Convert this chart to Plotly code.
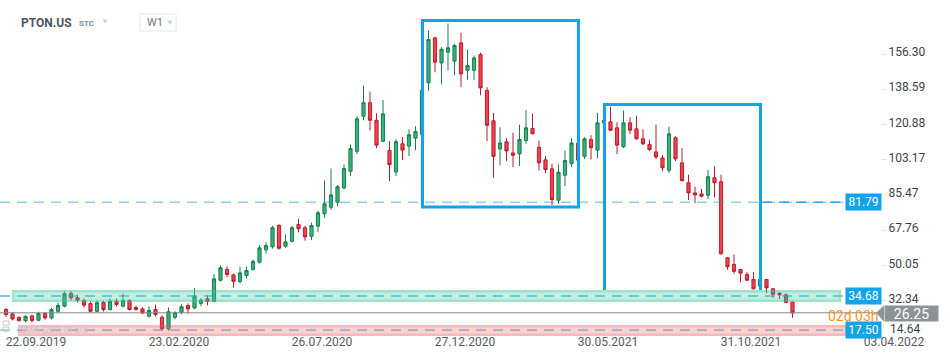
import pandas as pd
import plotly.graph_objects as go

# ---------------- data (weekly candles, PTON.US) ----------------
first_week = "2019-09-22"
opens = [27.9, 25.7, 23.9, 22.3, 24.7, 22.5, 25.9, 23.7, 27.0, 29.6,
         35.9, 33.8, 32.4, 30.9, 27.0, 31.4, 27.9, 32.1, 29.6, 32.4,
         28.9, 28.2, 24.5, 27.9, 24.0, 18.2, 24.0, 26.5, 29.9, 28.7,
         31.0, 33.3, 32.0, 42.6, 48.0, 45.3, 42.0, 45.0, 48.0, 51.7,
         57.9, 59.4, 70.1, 59.7, 62.2, 70.6, 69.0, 64.7, 69.8, 76.0,
         79.3, 81.8, 89.0, 97.4, 107.4, 125.0, 131.8, 123.0, 112.5, 107.8,
         97.0, 111.2, 110.0, 114.0, 115.9, 141.8, 164.4, 151.8, 157.2, 152.7,
         161.9, 148.1, 148.1, 156.0, 138.0, 122.7, 108.6, 112.2, 106.6, 106.1,
         112.8, 118.9, 109.4, 103.1, 98.6, 82.8, 95.4, 101.3, 111.5, 104.9,
         113.3, 108.0, 122.9, 122.2, 119.2, 109.7, 121.7, 118.7, 113.7, 110.8,
         107.1, 104.1, 97.9, 114.2, 101.6, 91.6, 86.5, 86.0, 85.3, 94.1,
         92.1, 53.9, 50.5, 48.0, 45.5, 43.0, 39.6, 43.0, 38.3, 36.1,
         35.3, 31.6]
highs = [28.7, 26.5, 24.5, 25.0, 25.2, 26.8, 26.7, 28.7, 31.3, 37.0,
         37.1, 35.4, 33.4, 31.9, 32.4, 32.4, 33.4, 33.4, 36.0, 33.0,
         29.9, 29.0, 29.5, 30.4, 24.9, 28.9, 27.0, 30.5, 31.0, 38.6,
         33.5, 35.0, 45.8, 50.0, 49.6, 46.0, 49.4, 49.4, 53.0, 60.3,
         61.7, 70.0, 70.8, 65.6, 70.0, 73.5, 70.0, 71.6, 77.5, 92.7,
         98.8, 90.5, 100.8, 110.8, 125.0, 140.4, 137.4, 126.5, 133.2, 112.5,
         113.5, 114.5, 118.5, 120.0, 138.5, 168.1, 165.0, 159.7, 171.6, 161.4,
         167.0, 158.6, 155.5, 157.0, 139.6, 126.7, 119.5, 114.0, 116.7, 120.8,
         128.0, 126.4, 112.8, 105.0, 101.1, 100.8, 107.8, 114.0, 112.0, 114.5,
         115.5, 126.7, 123.5, 129.8, 122.0, 127.9, 124.5, 125.3, 118.5, 113.3,
         120.8, 105.5, 119.8, 115.0, 109.0, 95.6, 89.6, 88.5, 98.0, 99.9,
         95.6, 54.2, 55.5, 48.3, 46.8, 46.8, 43.5, 43.3, 38.6, 36.5,
         36.0, 32.0]
lows = [24.2, 22.4, 21.7, 21.5, 21.4, 22.0, 22.7, 22.9, 26.2, 29.0,
        32.5, 31.4, 28.9, 26.4, 26.4, 26.9, 27.4, 29.4, 29.0, 27.4,
        27.4, 25.6, 23.9, 24.4, 17.3, 17.3, 23.0, 25.5, 25.9, 28.0,
        29.5, 30.0, 31.5, 42.0, 44.2, 38.9, 41.0, 43.5, 47.5, 51.0,
        56.0, 58.5, 58.0, 59.0, 61.5, 66.7, 62.5, 62.8, 66.8, 74.0,
        78.0, 79.8, 88.2, 94.9, 106.0, 123.0, 117.9, 109.0, 112.0, 92.4,
        95.0, 103.0, 105.0, 108.0, 115.0, 137.9, 147.1, 141.0, 148.0, 145.6,
        139.6, 143.4, 143.2, 135.6, 112.5, 94.1, 100.3, 102.6, 99.4, 100.0,
        111.0, 116.0, 97.7, 96.5, 80.4, 81.1, 89.9, 99.5, 102.5, 103.5,
        103.3, 103.9, 121.0, 117.5, 106.0, 109.0, 116.0, 113.2, 110.5, 107.6,
        103.5, 97.4, 96.5, 102.5, 92.4, 82.9, 81.3, 84.3, 83.5, 84.2,
        55.5, 47.9, 45.9, 41.6, 42.3, 38.0, 39.3, 36.3, 33.8, 33.2,
        31.0, 23.7]
closes = [25.4, 23.2, 22.4, 24.4, 22.4, 25.9, 23.7, 27.9, 29.9, 35.8,
          33.8, 32.6, 30.1, 27.0, 31.3, 27.9, 32.1, 30.4, 32.4, 27.9,
          27.9, 26.2, 27.4, 25.4, 18.2, 26.8, 26.3, 29.3, 28.2, 34.6,
          32.6, 32.0, 43.3, 48.9, 45.5, 42.1, 46.3, 47.5, 52.0, 58.9,
          60.0, 69.0, 58.7, 61.9, 69.0, 68.5, 64.4, 70.1, 76.5, 81.0,
          85.5, 89.6, 98.7, 108.8, 123.7, 131.8, 123.0, 110.5, 126.2, 100.7,
          112.2, 108.0, 115.7, 117.3, 137.9, 163.6, 152.2, 158.7, 159.4, 160.6,
          146.3, 150.5, 154.3, 139.3, 120.5, 104.9, 111.6, 107.6, 105.4, 113.3,
          119.2, 116.2, 101.6, 98.2, 83.2, 96.9, 102.8, 111.6, 103.0, 113.7,
          109.2, 121.7, 121.7, 118.0, 110.5, 121.7, 118.0, 113.7, 111.2, 108.3,
          104.6, 99.1, 116.2, 103.6, 92.6, 86.5, 85.5, 84.8, 94.6, 91.6,
          55.9, 49.4, 47.1, 46.2, 42.6, 38.3, 43.0, 38.8, 35.6, 35.3,
          31.5, 26.25]

x_tick_dates = ["2019-09-22", "2020-02-23", "2020-07-26", "2020-12-27",
                "2021-05-30", "2021-10-31", "2022-04-03"]
x_tick_labels = ["22.09.2019", "23.02.2020", "26.07.2020", "27.12.2020",
                 "30.05.2021", "31.10.2021", "03.04.2022"]
y_tick_vals = [32.34, 50.05, 67.76, 85.47, 103.17, 120.88, 138.59, 156.30]
y_tick_labels = ["32.34", "50.05", "67.76", "85.47",
                 "103.17", "120.88", "138.59", "156.30"]
y_bottom_tick = "14.64"

level_resistance = 81.79
level_zone_high = 34.68
level_zone_low = 17.50
last_price = 26.25
countdown = "02d 03h"

# ---------------- geometry helpers ----------------
W, H = 950, 361
ML, MR, MT, MB = 0, 70, 0, 25
PW, PH = W - ML - MR, H - MT - MB
PX_PER_USD = 1.99
Y_REF_PX, Y_REF_VAL = 54.0, 156.30


def v_at(ypx):
    return Y_REF_VAL - (ypx - Y_REF_PX) / PX_PER_USD


def px(xpx):
    return xpx / PW


def py(ypx):
    return 1 - ypx / PH


start = pd.Timestamp(first_week)
dates = pd.date_range(start, periods=len(opens), freq="7D")
PX_PER_WEEK = 6.5
FIRST_PX = 6.0


def wk(k):
    return start + pd.Timedelta(days=7 * k)


def x_at(xpx):
    return wk((xpx - FIRST_PX) / PX_PER_WEEK)


fig = go.Figure()
fig.add_trace(go.Candlestick(
    x=dates, open=opens, high=highs, low=lows, close=closes,
    increasing=dict(line=dict(color="#1c7c4d", width=1), fillcolor="#35b37c"),
    decreasing=dict(line=dict(color="#b81d2e", width=1), fillcolor="#f3414f"),
    hoverinfo="skip", showlegend=False,
))

shapes = []
BLUE = "#12a4e9"
DASH = "10px,7px"

# dashed level lines (under the zones)
shapes.append(dict(type="line", xref="paper", yref="y", x0=0, x1=px(845),
                   y0=level_resistance, y1=level_resistance, layer="above",
                   line=dict(color="rgba(30,160,230,0.5)", width=1.4, dash=DASH)))
shapes.append(dict(type="line", xref="paper", yref="y", x0=px(762), x1=px(845),
                   y0=level_resistance, y1=level_resistance, layer="above",
                   line=dict(color="rgba(30,160,230,0.9)", width=1.4, dash=DASH)))
for lv in (level_zone_high, level_zone_low):
    shapes.append(dict(type="line", xref="paper", yref="y", x0=0, x1=px(845),
                       y0=lv, y1=lv, layer="above",
                       line=dict(color="rgba(30,160,230,0.75)", width=1.3, dash=DASH)))


def zone(x0p, x1p, ytop, ybot, rgb, a_fill, a_frame, frame=2.5):
    out = [dict(type="rect", xref="paper", yref="y", x0=px(x0p), x1=px(x1p),
                y0=v_at(ybot), y1=v_at(ytop), layer="above", line=dict(width=0),
                fillcolor=f"rgba({rgb},{a_fill})")]
    path = (f"M{px(x0p)},{v_at(ytop)} L{px(x1p)},{v_at(ytop)} L{px(x1p)},{v_at(ybot)} "
            f"L{px(x0p)},{v_at(ybot)} Z "
            f"M{px(x0p + frame)},{v_at(ytop + frame)} L{px(x1p - frame)},{v_at(ytop + frame)} "
            f"L{px(x1p - frame)},{v_at(ybot - frame)} L{px(x0p + frame)},{v_at(ybot - frame)} Z")
    out.append(dict(type="path", xref="paper", yref="y", path=path, layer="above",
                    fillrule="evenodd", line=dict(width=0),
                    fillcolor=f"rgba({rgb},{a_frame})"))
    return out


shapes += zone(12, 841, 290, 302, "60,200,150", 0.30, 0.29)
shapes += zone(18, 847, 325, 336, "240,90,95", 0.28, 0.2)

# blue drawn rectangles
shapes.append(dict(type="rect", xref="x", yref="y",
                   x0=x_at(422.5), x1=x_at(578.5), y0=v_at(207), y1=v_at(20.5),
                   layer="above", line=dict(color=BLUE, width=3)))
r2_top, r2_bot = v_at(104.5), v_at(290)
shapes.append(dict(type="line", xref="x", yref="y", x0=x_at(604.5), x1=x_at(760.5),
                   y0=r2_top, y1=r2_top, layer="above", line=dict(color=BLUE, width=3)))
for xx in (604.5, 760.5):
    shapes.append(dict(type="line", xref="x", yref="y", x0=x_at(xx), x1=x_at(xx),
                       y0=v_at(103), y1=r2_bot, layer="above",
                       line=dict(color=BLUE, width=3)))

# last price line
shapes.append(dict(type="line", xref="paper", yref="y", x0=0, x1=px(880),
                   y0=last_price, y1=last_price, layer="above",
                   line=dict(color="#80878c", width=1)))
# price tag pointer
shapes.append(dict(type="path", xref="paper", yref="y", layer="above",
                   path=f"M{px(876)},{last_price} L{px(884)},{v_at(305.5)} "
                        f"L{px(884)},{v_at(321.5)} Z",
                   fillcolor="#8b9397", line=dict(width=0)))
# W1 selector box
shapes.append(dict(type="rect", xref="paper", yref="paper", x0=px(140), x1=px(176),
                   y0=py(31), y1=py(14), line=dict(color="#e4e6e8", width=1),
                   fillcolor="white", layer="above"))
# indicator icons (faint)
for (ix0, iy0) in ((3, 321), (3, 327)):
    shapes.append(dict(type="rect", xref="paper", yref="paper", x0=px(ix0), x1=px(ix0 + 6),
                       y0=py(iy0 + 4), y1=py(iy0), line=dict(color="#c9c9c9", width=1),
                       fillcolor="rgba(0,0,0,0)", layer="above"))

FONT = "Roboto, Arial, sans-serif"
ann = []
ann.append(dict(text="<b>PTON.US</b>", xref="paper", yref="paper", x=px(19), y=py(23),
                xanchor="left", yanchor="middle", showarrow=False,
                font=dict(family=FONT, size=12, color="#4b5661")))
ann.append(dict(text="<b>STC</b>", xref="paper", yref="paper", x=px(77), y=py(24),
                xanchor="left", yanchor="middle", showarrow=False,
                font=dict(family=FONT, size=8, color="#7f8e9c")))
ann.append(dict(text="▼", xref="paper", yref="paper", x=px(99), y=py(22),
                xanchor="left", yanchor="middle", showarrow=False,
                font=dict(family=FONT, size=8, color="#cfd2d6")))
ann.append(dict(text="W1", xref="paper", yref="paper", x=px(145), y=py(23),
                xanchor="left", yanchor="middle", showarrow=False,
                font=dict(family=FONT, size=11, color="#6f7880")))
ann.append(dict(text="▼", xref="paper", yref="paper", x=px(164), y=py(23),
                xanchor="left", yanchor="middle", showarrow=False,
                font=dict(family=FONT, size=8, color="#cfd2d6")))
ann.append(dict(text="SMA (200, 0) n/a", xref="paper", yref="paper", x=px(18), y=py(330),
                xanchor="left", yanchor="middle", showarrow=False,
                font=dict(family=FONT, size=9, color="#cdbfc1")))

for lv, txt in [(level_resistance, "81.79"), (level_zone_high, "34.68"),
                (level_zone_low, "17.50")]:
    ann.append(dict(text=txt, xref="paper", yref="y", x=px(863), y=lv,
                    xanchor="center", yanchor="middle", showarrow=False,
                    bgcolor=BLUE, width=35, height=16, borderpad=0,
                    font=dict(family=FONT, size=12, color="white")))

# bottom price-scale label, lifted above the date label as in the source
ann.append(dict(text=y_bottom_tick, xref="paper", yref="y", x=px(888), y=v_at(328.5),
                xanchor="left", yanchor="middle", showarrow=False,
                font=dict(family=FONT, size=12, color="#3d4348")))

ann.append(dict(text=countdown, xref="paper", yref="y", x=px(826), y=v_at(316),
                xanchor="left", yanchor="middle", showarrow=False,
                font=dict(family=FONT, size=14, color="#f7941d")))
ann.append(dict(text="26.25", xref="paper", yref="y", x=px(884), y=v_at(313.5),
                xanchor="left", yanchor="middle", showarrow=False,
                bgcolor="#8b9397", width=53, height=15, borderpad=0,
                font=dict(family=FONT, size=14, color="white")))

fig.update_layout(
    width=W, height=H,
    margin=dict(l=ML, r=MR, t=MT, b=MB),
    paper_bgcolor="white", plot_bgcolor="white",
    shapes=shapes, annotations=ann,
    showlegend=False,
    xaxis=dict(type="date", range=[x_at(0), x_at(PW)], rangeslider=dict(visible=False),
               showgrid=False, zeroline=False, showline=False, ticks="",
               tickvals=x_tick_dates, ticktext=x_tick_labels, ticklabelshift=30,
               ticklabelstandoff=-3,
               tickfont=dict(family=FONT, size=12, color="#555b60")),
    yaxis=dict(side="right", range=[v_at(PH), v_at(0)], showgrid=False,
               zeroline=False, showline=False, ticks="outside", ticklen=5,
               tickcolor="#e3e5e7", tickvals=y_tick_vals, ticktext=y_tick_labels,
               ticklabelshift=-2,
               tickfont=dict(family=FONT, size=12, color="#3d4348")),
)

fig.write_html("out.html")
